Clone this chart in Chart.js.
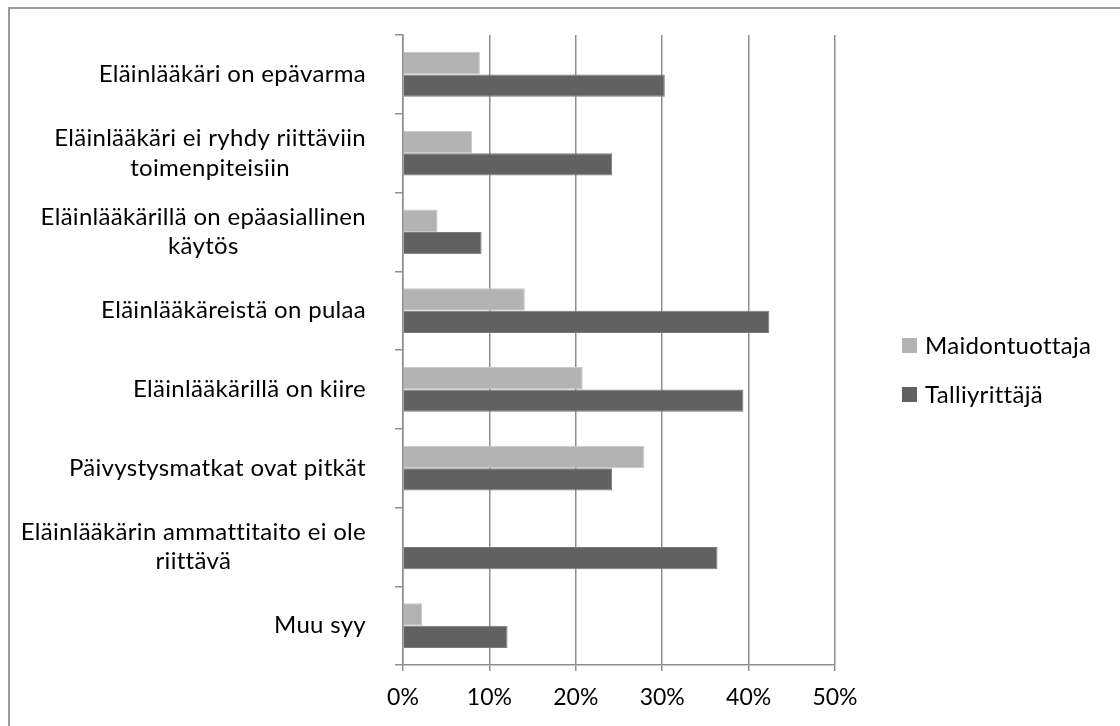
<!DOCTYPE html>
<html><head><meta charset="utf-8">
<script src="https://cdn.jsdelivr.net/npm/chart.js@4/dist/chart.umd.min.js"></script>
<style>
html,body{margin:0;padding:0;background:#fff;overflow:hidden;}
#wrap{position:relative;width:1120px;height:726px;overflow:hidden;}
#frame{position:absolute;left:8px;top:7px;width:1140px;height:760px;border:2px solid #9a9a9a;box-sizing:border-box;pointer-events:none;}
canvas{position:absolute;left:0;top:0;}
</style></head><body>
<div id="wrap"><div id="frame"></div><canvas id="c" width="1120" height="726"></canvas></div>
<script>
const categories = [
  ["Eläinlääkäri on epävarma"],
  ["Eläinlääkäri ei ryhdy riittäviin", "toimenpiteisiin"],
  ["Eläinlääkärillä on epäasiallinen", "käytös"],
  ["Eläinlääkäreistä on pulaa"],
  ["Eläinlääkärillä on kiire"],
  ["Päivystysmatkat ovat pitkät"],
  ["Eläinlääkärin ammattitaito ei ole", "riittävä"],
  ["Muu syy"]
];
const seriesNames = ["Maidontuottaja", "Talliyrittäjä"];
const maidontuottaja = [8.9, 8.0, 4.0, 14.1, 20.8, 27.9, 0, 2.2];
const talliyrittaja = [30.3, 24.2, 9.1, 42.4, 39.4, 24.2, 36.4, 12.1];
const xTickLabels = ["0%", "10%", "20%", "30%", "40%", "50%"];

const FONT = "Lato";
const GRID = "#8e8e8e";

function noLig(ctx) {
  if ("letterSpacing" in ctx) ctx.letterSpacing = "0.3px";
}

const yLabelPlugin = {
  id: "yLabels",
  afterDraw(chart) {
    const ctx = chart.ctx, y = chart.scales.y;
    ctx.save();
    ctx.font = "24px " + FONT;
    noLig(ctx);
    ctx.fillStyle = "#000";
    ctx.textBaseline = "middle";
    ctx.textAlign = "center";
    const right = 366, lh = 29.5;
    chart.data.labels.forEach((lines, i) => {
      const cy = y.getPixelForValue(i);
      const w = Math.max(...lines.map(l => ctx.measureText(l).width));
      const cx = right - w / 2;
      lines.forEach((l, j) => ctx.fillText(l, cx, cy + (j - (lines.length - 1) / 2) * lh));
    });
    ctx.restore();
  }
};

const legendPlugin = {
  id: "customLegend",
  afterDraw(chart) {
    const ctx = chart.ctx;
    ctx.save();
    ctx.font = "24px " + FONT;
    noLig(ctx);
    ctx.textBaseline = "middle";
    ctx.textAlign = "left";
    chart.data.datasets.forEach((ds, i) => {
      const top = 338 + i * 49;
      ctx.fillStyle = ds.backgroundColor;
      ctx.fillRect(902, top, 15, 15);
      ctx.fillStyle = "#000";
      ctx.fillText(ds.label, 925, top + 8);
    });
    ctx.restore();
  }
};

new Chart(document.getElementById("c"), {
  type: "bar",
  data: {
    labels: categories,
    datasets: [
      { label: seriesNames[0], data: maidontuottaja, backgroundColor: "#b3b3b3", borderColor: "#c9c9c9", borderWidth: 1 },
      { label: seriesNames[1], data: talliyrittaja, backgroundColor: "#616161", borderColor: "#7a7a7a", borderWidth: 1 }
    ]
  },
  options: {
    indexAxis: "y",
    responsive: false,
    animation: false,
    devicePixelRatio: 1,
    layout: { padding: { top: 35, right: 285, left: 0, bottom: 0 } },
    datasets: { bar: { categoryPercentage: 0.57, barPercentage: 1.0 } },
    plugins: { legend: { display: false }, tooltip: { enabled: false } },
    scales: {
      x: {
        min: 0, max: 50,
        ticks: {
          stepSize: 10,
          color: "#000",
          font: { family: FONT, size: 23 },
          padding: 13,
          callback: (v) => xTickLabels[v / 10]
        },
        grid: { color: GRID, lineWidth: 1.5, tickLength: 6, drawTicks: true },
        border: { color: GRID, width: 1.5 },
        afterFit: (s) => { s.height = 61; }
      },
      y: {
        ticks: { display: false },
        grid: { drawOnChartArea: false, drawTicks: true, tickLength: 8, color: GRID, lineWidth: 1.5, offset: true },
        border: { color: GRID, width: 1.5 },
        afterFit: (s) => { s.width = 403; }
      }
    }
  },
  plugins: [yLabelPlugin, legendPlugin]
});
</script>
</body></html>
